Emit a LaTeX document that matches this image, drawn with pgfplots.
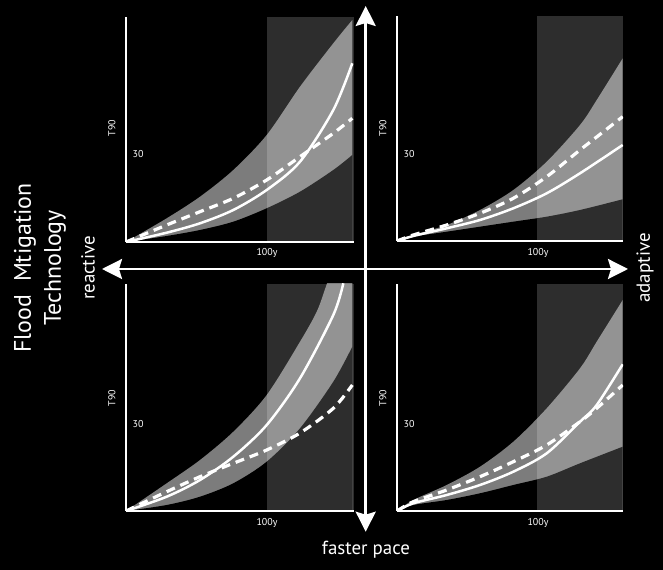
\documentclass[border=0pt]{standalone}
\usepackage{pgfplots}
\pgfplotsset{compat=1.18}
\usetikzlibrary{arrows.meta}
\usepackage{fontspec}
\setmainfont{PT Sans}
\definecolor{bandgray}{RGB}{124,124,124}
\pgfplotsset{
  quad/.style={
    scale only axis, axis lines=left, ticks=none,
    axis line style={draw=white, line width=2.6bp, -},
    xmin=0, ymin=0, axis on top,
  },
  upperfill/.style={fill=bandgray, draw=none, smooth, forget plot},
  lowerfill/.style={fill=black, draw=none, smooth, forget plot},
  boxfill/.style={fill=white, fill opacity=0.175, draw=none, forget plot},
  mid/.style={white, line width=2.5bp, smooth, no markers},
  dsh/.style={white, line width=3.2bp, smooth, no markers, dash pattern=on 9bp off 6bp},
}
\begin{document}
\begin{tikzpicture}[x=1bp,y=1bp]
\fill[black] (0,0) rectangle (663,570);

% ---- top left
\begin{axis}[quad, at={(126,328)}, anchor=south west, width=228bp, height=225bp, xmax=228, ymax=225]
\addplot[upperfill] coordinates {(0,0)(40.7,23.7)(74,45.3)(107.3,72)(140.7,107)(174,155.3)(207.3,198.7)(226.3,222)} \closedcycle;
\addplot[lowerfill] coordinates {(0,0)(40.7,6)(74,12)(107.3,20.3)(140.7,33.7)(174,50.3)(207.3,72)(226.3,87)} \closedcycle;
\addplot[boxfill] coordinates {(141,0)(228,0)(228,225)(141,225)} -- cycle;
\addplot[dsh] coordinates {(0,0)(40.7,17)(74,30.3)(107.3,43.7)(140.7,62)(174,85.3)(207.3,108.7)(226.3,123.7)};
\addplot[mid] coordinates {(0,0)(40.7,9.3)(74,18.7)(107.3,32)(140.7,52)(174,80.3)(207.3,132)(226.3,178.7)};
\end{axis}

% ---- top right
\begin{axis}[quad, at={(397,329)}, anchor=south west, width=226bp, height=225bp, xmax=226, ymax=225]
\addplot[upperfill] coordinates {(0,0)(16.3,6)(49.7,16)(83,31)(116.3,51)(149.7,79.3)(183,116)(199.7,141)(225.7,182.7)} \closedcycle;
\addplot[lowerfill] coordinates {(0,0)(16.3,4.3)(49.7,9.3)(83,14.3)(116.3,19.3)(149.7,24.3)(183,31)(225.7,41.7)} \closedcycle;
\addplot[boxfill] coordinates {(140,0)(226,0)(226,225)(140,225)} -- cycle;
\addplot[dsh] coordinates {(0,0)(16.3,6)(49.7,16)(83,27.7)(116.3,42.7)(149.7,64.3)(183,91)(225.7,124.3)};
\addplot[mid] coordinates {(0,0)(16.3,5)(49.7,12.7)(83,21)(116.3,32.7)(149.7,47.7)(183,67.7)(225.7,96)};
\end{axis}

% ---- bottom left
\begin{axis}[quad, at={(126,59)}, anchor=south west, width=228bp, height=227bp, xmax=228, ymax=227]
\addplot[upperfill] coordinates {(0,0)(40.7,27.7)(74,51)(107.3,79.3)(140.7,116)(174,169.3)(190.7,199.3)(200.7,226.7)(226.3,300)} \closedcycle;
\addplot[lowerfill] coordinates {(0,0)(40.7,6)(74,14.3)(107.3,27.7)(140.7,49.3)(174,82.7)(207.3,129.3)(226.3,164.3)} \closedcycle;
\addplot[boxfill] coordinates {(141,0)(228,0)(228,227)(141,227)} -- cycle;
\addplot[dsh] coordinates {(0,0)(40.7,19.3)(74,34.3)(107.3,47.7)(140.7,61)(174,78)(207.3,102.7)(226.3,126)};
\addplot[mid] coordinates {(0,0)(40.7,14.3)(74,31)(107.3,54.3)(140.7,86)(174,132.7)(207.3,196)(217.3,227.7)};
\end{axis}

% ---- bottom right
\begin{axis}[quad, at={(397,59)}, anchor=south west, width=226bp, height=227bp, xmax=226, ymax=227]
\addplot[upperfill] coordinates {(0,0)(16.3,11)(49.7,26)(83,44.3)(116.3,69.3)(149.7,102.7)(183,142.7)(199.7,169.3)(225.7,211)} \closedcycle;
\addplot[lowerfill] coordinates {(0,0)(16.3,6)(49.7,11)(83,17.7)(116.3,26)(149.7,34.3)(183,47.7)(225.7,64.3)} \closedcycle;
\addplot[boxfill] coordinates {(140,0)(226,0)(226,227)(140,227)} -- cycle;
\addplot[dsh] coordinates {(0,0)(16.3,9.3)(49.7,21)(83,34.3)(116.3,49.3)(149.7,66)(183,89.3)(199.7,102.7)(225.7,126)};
\addplot[mid] coordinates {(0,0)(16.3,7.7)(49.7,16)(83,26)(116.3,39.3)(149.7,57.7)(183,89.3)(199.7,106)(225.7,146.7)};
\end{axis}

% ---- arrows
\draw[white, line width=2.6bp, {Stealth[length=20bp,width=20bp,inset=3bp]}-{Stealth[length=20bp,width=20bp,inset=3bp]}] (365.7,564) -- (365.7,38.3);
\draw[white, line width=2.6bp, {Stealth[length=20bp,width=20bp,inset=3bp]}-{Stealth[length=20bp,width=20bp,inset=3bp]}] (102,301) -- (628,301);

% ---- texts
\begin{scope}[every node/.style={text=white, inner sep=0pt}]
\node[rotate=90, font=\fontsize{24}{28}\selectfont] at (25,302) {Flood\ \ Mtigation};
\node[rotate=90, font=\fontsize{24}{28}\selectfont] at (55,302) {Technology};
\node[rotate=90, font=\fontsize{19}{22}\selectfont] at (88,302) {reactive};
\node[rotate=90, font=\fontsize{19}{22}\selectfont] at (645,302) {adaptive};
\node[font=\fontsize{19}{22}\selectfont] at (366,20) {faster pace};
\foreach \dx in {0,271} {
  \foreach \dy in {0,-270} {
    \node[rotate=90, font=\fontsize{10}{12}\selectfont] at (112+\dx,442+\dy) {T90};
    \node[font=\fontsize{10}{12}\selectfont] at (138+\dx,416+\dy) {30};
    \node[font=\fontsize{10}{12}\selectfont] at (267+\dx,317+\dy) {100y};
  }
}
\end{scope}
\end{tikzpicture}
\end{document}
